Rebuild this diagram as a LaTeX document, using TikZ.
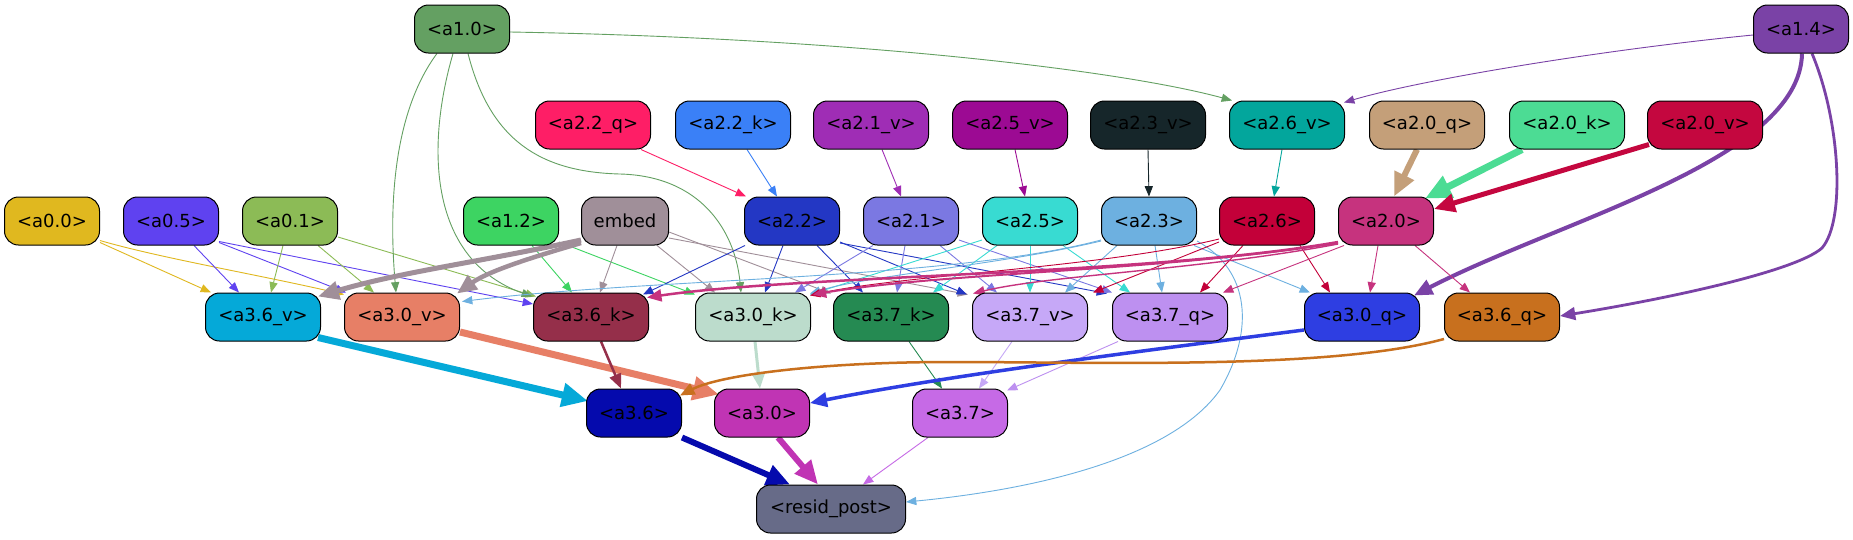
\documentclass[tikz,border=0pt]{standalone}
\usepackage{fontspec}
\setmainfont{DejaVu Sans}
\usetikzlibrary{arrows.meta,backgrounds}
\definecolor{c10}{HTML}{64A062}
\definecolor{c14}{HTML}{7A42A6}
\definecolor{c22q}{HTML}{FE1E66}
\definecolor{c22k}{HTML}{3A80F7}
\definecolor{c21v}{HTML}{9F2DB5}
\definecolor{c25v}{HTML}{9C0A93}
\definecolor{c23v}{HTML}{16262A}
\definecolor{c26v}{HTML}{03A69C}
\definecolor{c20q}{HTML}{C49F79}
\definecolor{c20k}{HTML}{4CDC94}
\definecolor{c20v}{HTML}{C4073F}
\definecolor{c00}{HTML}{E0B81F}
\definecolor{c05}{HTML}{5F42F0}
\definecolor{c01}{HTML}{8CBB56}
\definecolor{c12}{HTML}{3DD462}
\definecolor{cemb}{HTML}{A08F99}
\definecolor{c22}{HTML}{2337C4}
\definecolor{c21}{HTML}{7B78E2}
\definecolor{c25}{HTML}{38DBD2}
\definecolor{c23}{HTML}{6DB0E0}
\definecolor{c26}{HTML}{C30039}
\definecolor{c20}{HTML}{C6337E}
\definecolor{c36v}{HTML}{05A9D8}
\definecolor{c30v}{HTML}{E77F66}
\definecolor{c36k}{HTML}{952F4A}
\definecolor{c30k}{HTML}{BCDCCC}
\definecolor{c37k}{HTML}{258A52}
\definecolor{c37v}{HTML}{C6A8F7}
\definecolor{c37q}{HTML}{BD90F0}
\definecolor{c30q}{HTML}{2E3EE2}
\definecolor{c36q}{HTML}{C8701E}
\definecolor{c36}{HTML}{050AAD}
\definecolor{c30}{HTML}{C034B4}
\definecolor{c37}{HTML}{C66AE6}
\definecolor{cres}{HTML}{676B88}
\tikzset{
  box/.style={draw=black,line width=1pt,rounded corners=14pt,minimum height=48pt,inner sep=0pt,text=black,font=\fontsize{18}{20}\selectfont},
  sw/.style={box,minimum width=95pt},
  mw/.style={box,minimum width=115pt},
  ar/.style={-{Triangle[length=8pt 2.6,width=6pt 2.4]}},
  th/.style={ar,line width=0.9pt},
}
\begin{document}
\begin{tikzpicture}[x=1pt,y=-1pt]
\useasboundingbox (0,0) rectangle (1853,539);
% row 1
\node[sw,fill=c10] (a10) at (462,29) {<a1.0>};
\node[sw,fill=c14] (a14) at (1801,29) {<a1.4>};
% row 2
\node[mw,fill=c22q] (a22q) at (593,125) {<a2.2\_q>};
\node[mw,fill=c22k] (a22k) at (733,125) {<a2.2\_k>};
\node[mw,fill=c21v] (a21v) at (871,125) {<a2.1\_v>};
\node[mw,fill=c25v] (a25v) at (1010,125) {<a2.5\_v>};
\node[mw,fill=c23v] (a23v) at (1148,125) {<a2.3\_v>};
\node[mw,fill=c26v] (a26v) at (1287,125) {<a2.6\_v>};
\node[mw,fill=c20q] (a20q) at (1427,125) {<a2.0\_q>};
\node[mw,fill=c20k] (a20k) at (1567,125) {<a2.0\_k>};
\node[mw,fill=c20v] (a20v) at (1705,125) {<a2.0\_v>};
% row 3
\node[sw,fill=c00] (a00) at (52,221) {<a0.0>};
\node[sw,fill=c05] (a05) at (171,221) {<a0.5>};
\node[sw,fill=c01] (a01) at (290,221) {<a0.1>};
\node[sw,fill=c12] (a12) at (511,221) {<a1.2>};
\node[box,minimum width=87pt,fill=cemb] (emb) at (625,221) {embed};
\node[sw,fill=c22] (a22) at (792,221) {<a2.2>};
\node[sw,fill=c21] (a21) at (911,221) {<a2.1>};
\node[sw,fill=c25] (a25) at (1030,221) {<a2.5>};
\node[sw,fill=c23] (a23) at (1149,221) {<a2.3>};
\node[sw,fill=c26] (a26) at (1267,221) {<a2.6>};
\node[sw,fill=c20] (a20) at (1386,221) {<a2.0>};
% row 4
\node[mw,fill=c36v] (a36v) at (263,317) {<a3.6\_v>};
\node[mw,fill=c30v] (a30v) at (402,317) {<a3.0\_v>};
\node[mw,fill=c36k] (a36k) at (591,317) {<a3.6\_k>};
\node[mw,fill=c30k] (a30k) at (753,317) {<a3.0\_k>};
\node[mw,fill=c37k] (a37k) at (891,317) {<a3.7\_k>};
\node[mw,fill=c37v] (a37v) at (1030,317) {<a3.7\_v>};
\node[mw,fill=c37q] (a37q) at (1170,317) {<a3.7\_q>};
\node[mw,fill=c30q] (a30q) at (1362,317) {<a3.0\_q>};
\node[mw,fill=c36q] (a36q) at (1502,317) {<a3.6\_q>};
% row 5
\node[sw,fill=c36] (a36) at (634,413) {<a3.6>};
\node[sw,fill=c30] (a30) at (762,413) {<a3.0>};
\node[sw,fill=c37] (a37) at (960,413) {<a3.7>};
% row 6
\node[box,minimum width=149pt,fill=cres] (res) at (831,509) {<resid\_post>};

\begin{scope}[on background layer]
\fill[white] (0,0) rectangle (1853,539);
% top
\draw[th,draw=c10] ([yshift=-3]a10.east) .. controls (850,38) and (1120,70) .. ([xshift=-55]a26v.north);
\draw[th,draw=c14] ([yshift=-6]a14.west) .. controls (1600,50) and (1420,80) .. ([xshift=57,yshift=-2]a26v.north);
\draw[ar,draw=c14,line width=4pt] ([xshift=1]a14.south) .. controls (1800,160) and (1560,220) .. ([xshift=52,yshift=-3]a30q.north);
\draw[ar,draw=c14,line width=2.8pt] ([xshift=11]a14.south) .. controls (1840,120) and (1846,220) .. (1822,248) .. controls (1795,272) and (1660,300) .. ([yshift=1]a36q.east);
% row 2 -> row 3
\draw[th,draw=c22q] ([xshift=48]a22q.south) -- ([xshift=-46]a22.north);
\draw[th,draw=c22k] ([xshift=14]a22k.south) -- ([xshift=-15]a22.north);
\draw[th,draw=c21v] ([xshift=11]a21v.south) -- ([xshift=-10]a21.north);
\draw[th,draw=c25v] ([xshift=5]a25v.south) -- ([xshift=-5]a25.north);
\draw[th,draw=c23v] (a23v.south) -- (a23.north);
\draw[th,draw=c26v] ([xshift=-5]a26v.south) -- ([xshift=7]a26.north);
\draw[ar,draw=c20q,line width=6pt] ([xshift=-10]a20q.south) -- ([xshift=8]a20.north);
\draw[ar,draw=c20k,line width=7pt] ([xshift=-45]a20k.south) -- ([xshift=39,yshift=-2]a20.north);
\draw[ar,draw=c20v,line width=5pt] ([xshift=2,yshift=5]a20v.south west) -- ([yshift=12]a20.east);
% row 3 -> row 4
\draw[th,draw=c00] ([yshift=3]a00.south east) -- ([xshift=-52]a36v.north);
\draw[th,draw=c00] ([yshift=5]a00.south east) .. controls (160,258) and (260,275) .. ([xshift=-58,yshift=-2]a30v.north);
\draw[th,draw=c05] ([xshift=23]a05.south) -- ([xshift=-24]a36v.north);
\draw[th,draw=c05] ([yshift=3]a05.south east) -- ([xshift=-56]a30v.north);
\draw[th,draw=c05] ([yshift=4]a05.south east) -- ([yshift=13]a36k.west);
\draw[th,draw=c01] ([xshift=-7]a01.south) -- ([xshift=8]a36v.north);
\draw[th,draw=c01] ([xshift=28]a01.south) -- ([xshift=-28]a30v.north);
\draw[th,draw=c01] ([yshift=-16]a01.east) -- ([xshift=-55,yshift=-4]a36k.north);
\draw[th,draw=c10] ([xshift=-25]a10.south) .. controls (395,110) and (388,200) .. ([xshift=-6]a30v.north);
\draw[th,draw=c10] ([xshift=-9]a10.south) .. controls (425,150) and (430,260) .. ([xshift=-59,yshift=-4]a36k.north);
\draw[th,draw=c10] ([xshift=6]a10.south) .. controls (490,140) and (540,172) .. (620,174) .. controls (700,176) and (735,230) .. ([xshift=-12]a30k.north);
\draw[th,draw=c12] ([xshift=21]a12.south) -- ([xshift=-19]a36k.north);
\draw[th,draw=c12] ([yshift=-21]a12.east) -- ([xshift=-58,yshift=-2]a30k.north);
\draw[ar,draw=cemb,line width=5pt] ([yshift=-19]emb.west) .. controls (480,262) and (400,272) .. ([xshift=-3,yshift=-4]a36v.north east);
\draw[ar,draw=cemb,line width=4.5pt] ([yshift=-22]emb.west) .. controls (540,255) and (490,270) .. ([xshift=-3,yshift=-1]a30v.north east);
\draw[th,draw=cemb] ([xshift=-8]emb.south) -- ([xshift=9]a36k.north);
\draw[th,draw=cemb] ([xshift=32]emb.south) -- ([xshift=-38]a30k.north);
\draw[th,draw=cemb] ([yshift=-11]emb.east) -- ([xshift=-60,yshift=-1]a37k.north);
\draw[th,draw=cemb] ([yshift=-17]emb.east) -- ([xshift=-62,yshift=-2]a37v.north);
\draw[th,draw=c22] ([xshift=-47]a22.south) -- ([xshift=52,yshift=-2]a36k.north);
\draw[th,draw=c22] ([xshift=-9]a22.south) -- ([xshift=12]a30k.north);
\draw[th,draw=c22] ([xshift=25]a22.south) -- ([xshift=-28]a37k.north);
\draw[th,draw=c22] ([yshift=-21]a22.east) -- ([xshift=-63,yshift=-2]a37v.north);
\draw[th,draw=c22] ([yshift=-22]a22.east) -- ([xshift=-63,yshift=-1]a37q.north);
\draw[th,draw=c21] ([xshift=-38]a21.south) -- ([xshift=42]a30k.north);
\draw[th,draw=c21] ([xshift=-6]a21.south) -- ([xshift=6]a37k.north);
\draw[th,draw=c21] ([xshift=29]a21.south) -- ([xshift=-33]a37v.north);
\draw[th,draw=c21] ([yshift=-19]a21.east) -- ([xshift=-58]a37q.north);
\draw[th,draw=c25] ([yshift=-19]a25.west) -- ([xshift=57,yshift=-2]a30k.north);
\draw[th,draw=c25] ([xshift=-33]a25.south) -- ([xshift=42]a37k.north);
\draw[th,draw=c25] (a25.south) -- (a37v.north);
\draw[th,draw=c25] ([xshift=33]a25.south) -- ([xshift=-40]a37q.north);
\draw[th,draw=c23] ([yshift=-19]a23.west) .. controls (950,280) and (650,278) .. ([xshift=2,yshift=-9]a30v.north east);
\draw[th,draw=c23] ([yshift=-20]a23.west) .. controls (1000,265) and (870,275) .. ([xshift=-1,yshift=-1]a30k.north east);
\draw[th,draw=c23] ([xshift=-32]a23.south) -- ([xshift=35]a37v.north);
\draw[th,draw=c23] ([xshift=6]a23.south) -- ([xshift=-8]a37q.north);
\draw[th,draw=c23] ([xshift=45]a23.south) -- ([xshift=-52]a30q.north);
\draw[th,draw=c23] ([yshift=-20]a23.east) .. controls (1250,270) and (1255,330) .. (1220,390) .. controls (1170,460) and (1030,490) .. ([yshift=7]res.east);
\draw[th,draw=c26] ([yshift=-18]a26.west) .. controls (1100,268) and (900,275) .. ([xshift=57,yshift=-3]a30k.north);
\draw[th,draw=c26] ([yshift=-21]a26.west) -- ([xshift=63]a37v.north);
\draw[th,draw=c26] ([xshift=-24]a26.south) -- ([xshift=30]a37q.north);
\draw[th,draw=c26] ([xshift=33]a26.south) -- ([xshift=-32]a30q.north);
\draw[ar,draw=c20,line width=2.5pt] ([yshift=-21]a20.west) .. controls (1150,275) and (800,275) .. ([xshift=-2,yshift=-5]a36k.north east);
\draw[ar,draw=c20,line width=2pt] ([yshift=-22]a20.west) .. controls (1150,272) and (950,272) .. ([xshift=2,yshift=-2]a30k.north east);
\draw[ar,draw=c20,line width=1.4pt] ([yshift=-23]a20.west) .. controls (1200,270) and (1050,275) .. ([xshift=-57,yshift=-1]a37v.north);
\draw[th,draw=c20] ([xshift=-42]a20.south) -- ([xshift=53]a37q.north);
\draw[th,draw=c20] ([xshift=-8]a20.south) -- ([xshift=8]a30q.north);
\draw[th,draw=c20] ([xshift=29]a20.south) -- ([xshift=-32]a36q.north);
% row 4 -> row 5
\draw[ar,draw=c36v,line width=7pt] ([xshift=55,yshift=4]a36v.south) -- ([xshift=2,yshift=12]a36.west);
\draw[ar,draw=c30v,line width=7pt] ([yshift=-15]a30v.east) -- ([xshift=5,yshift=-6]a30.north west);
\draw[ar,draw=c36k,line width=2.5pt] ([xshift=10]a36k.south) -- ([xshift=-13]a36.north);
\draw[ar,draw=c30k,line width=3pt] ([xshift=2]a30k.south) -- ([xshift=-2]a30.north);
\draw[th,draw=c37k] ([xshift=18]a37k.south) -- ([xshift=-18]a37.north);
\draw[th,draw=c37v] ([xshift=-18]a37v.south) -- ([xshift=19]a37.north);
\draw[th,draw=c37q] ([xshift=-52]a37q.south) -- ([xshift=47,yshift=-2]a37.north);
\draw[ar,draw=c30q,line width=3.5pt] ([yshift=-13]a30q.west) .. controls (1150,350) and (950,375) .. ([yshift=10]a30.east);
\draw[ar,draw=c36q,line width=2.5pt] ([yshift=-22]a36q.west) .. controls (1330,370) and (1100,362) .. (950,362) .. controls (820,362) and (720,375) .. ([xshift=-2,yshift=-7]a36.north east);
% row 5 -> resid
\draw[ar,draw=c36,line width=6pt] ([xshift=48]a36.south) -- ([xshift=-41]res.north);
\draw[ar,draw=c30,line width=6pt] ([xshift=16]a30.south) -- ([xshift=-13]res.north);
\draw[th,draw=c37] ([xshift=-32]a37.south) -- ([xshift=32]res.north);
\end{scope}
\end{tikzpicture}
\end{document}
